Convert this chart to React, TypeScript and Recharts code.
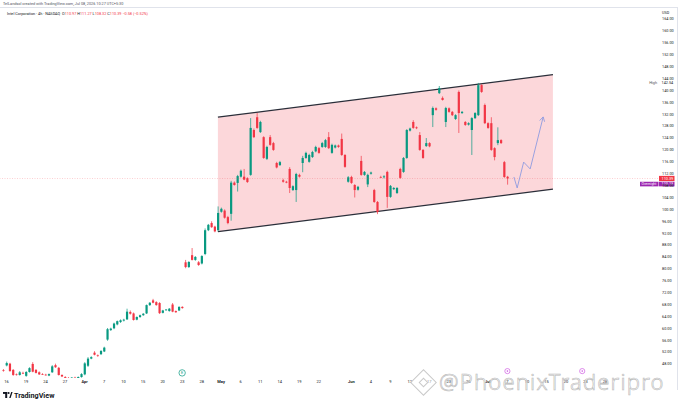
import React from 'react';
import {
  ComposedChart,
  Bar,
  Area,
  Line,
  XAxis,
  YAxis,
  ReferenceLine,
  ReferenceDot,
} from 'recharts';

const GREEN = '#089981';
const RED = '#f23645';
const PURPLE = '#9c27b0';
const FONT = 'Roboto, "Noto Sans", sans-serif';

// INTC 4h bars, one row per bar: [open, high, low, close]
const ohlc: [number, number, number, number][] = [
  [45.9, 46.3, 45.4, 45.7], [47.5, 48.8, 47.2, 48.3], [48.1, 48.4, 45.4, 45.6], [46.0, 46.3, 44.0, 44.3],
  [44.5, 44.8, 44.1, 44.3], [44.3, 45.6, 44.1, 45.2], [45.0, 45.4, 44.6, 44.8], [44.0, 45.6, 43.7, 45.3],
  [45.3, 46.9, 45.1, 46.6], [48.0, 48.6, 45.2, 45.4], [46.0, 46.3, 44.8, 45.0], [45.2, 45.5, 44.3, 44.5],
  [44.6, 44.9, 44.3, 44.5], [44.4, 44.7, 44.1, 44.3], [44.1, 44.8, 43.9, 44.6], [45.2, 47.6, 45.0, 47.2],
  [47.6, 48.1, 46.7, 46.9], [46.7, 47.0, 44.1, 44.3], [44.3, 44.5, 43.6, 43.8], [43.6, 43.9, 43.1, 43.3],
  [43.3, 43.6, 42.9, 43.1], [43.1, 43.6, 42.8, 43.4], [43.4, 43.7, 42.9, 43.1], [43.1, 43.8, 42.9, 43.6],
  [43.6, 44.9, 43.4, 44.6], [44.5, 48.6, 44.2, 48.2], [47.4, 50.3, 47.0, 49.8], [49.8, 50.6, 49.6, 50.3],
  [51.8, 52.3, 50.9, 51.1], [50.9, 51.2, 50.4, 50.7], [51.3, 52.6, 51.0, 52.4], [52.2, 53.8, 52.0, 53.5],
  [56.2, 60.1, 55.8, 59.7], [59.4, 60.2, 59.1, 59.9], [60.0, 61.9, 59.7, 61.6], [61.3, 62.6, 61.0, 62.4],
  [62.1, 63.0, 61.8, 62.7], [62.6, 63.2, 62.3, 62.9], [63.0, 66.6, 62.8, 65.6], [65.5, 66.0, 64.6, 64.9],
  [65.0, 65.3, 62.6, 62.8], [62.9, 64.0, 62.7, 63.8], [63.8, 64.6, 63.5, 64.4], [64.4, 65.1, 64.2, 64.9],
  [65.0, 68.0, 64.8, 67.8], [67.8, 68.8, 67.5, 68.6], [69.4, 69.9, 68.4, 68.6], [68.8, 69.1, 67.6, 67.8],
  [68.5, 68.8, 64.8, 65.1], [65.2, 66.2, 65.0, 66.0], [66.1, 66.5, 65.9, 66.3], [65.8, 66.8, 65.6, 66.6],
  [68.0, 68.5, 65.4, 65.6], [65.8, 66.0, 65.2, 65.4], [66.0, 67.4, 65.8, 67.2], [67.2, 67.4, 66.6, 66.8],
  [82.2, 83.0, 80.2, 80.6], [80.6, 82.6, 80.3, 82.3], [84.6, 87.0, 82.8, 83.0], [83.0, 84.3, 82.7, 84.0],
  [82.2, 82.6, 81.0, 81.3], [81.8, 84.6, 81.5, 84.3], [85.0, 93.6, 84.6, 93.0], [93.0, 95.1, 92.7, 94.8],
  [95.4, 96.0, 93.8, 94.0], [94.2, 94.5, 92.3, 92.6], [93.0, 101.0, 92.6, 98.8], [99.2, 100.6, 98.9, 100.2],
  [99.6, 100.0, 96.9, 97.2], [97.4, 97.8, 95.0, 95.4], [98.5, 109.6, 96.2, 109.0], [109.0, 109.4, 108.0, 108.2],
  [108.9, 111.6, 106.0, 111.2], [111.0, 113.4, 110.7, 113.0], [111.0, 113.6, 109.8, 110.0], [110.5, 110.8, 108.9, 109.2],
  [111.6, 130.7, 111.3, 127.4], [126.7, 127.2, 124.0, 124.3], [131.0, 132.4, 127.1, 127.4], [126.0, 129.8, 125.7, 129.4],
  [124.3, 124.6, 117.0, 117.3], [117.0, 121.4, 116.6, 121.0], [124.3, 125.0, 121.4, 121.7], [122.3, 122.7, 119.7, 120.0],
  [115.6, 116.0, 113.8, 114.1], [114.9, 116.3, 114.6, 115.9], [109.8, 110.3, 109.0, 109.3], [109.3, 109.6, 108.8, 109.0],
  [113.6, 114.2, 105.5, 107.2], [106.5, 108.1, 106.2, 107.8], [106.5, 112.3, 102.5, 111.9], [111.6, 112.0, 110.7, 111.0],
  [115.6, 118.0, 112.5, 117.3], [117.3, 119.4, 117.0, 119.0], [116.0, 118.7, 115.7, 118.3], [117.6, 119.7, 117.3, 119.3],
  [119.5, 121.4, 119.2, 121.0], [120.6, 121.0, 118.7, 119.0], [121.0, 122.7, 120.7, 122.3], [121.0, 123.7, 120.7, 123.3],
  [124.3, 126.0, 120.3, 120.6], [119.0, 122.1, 118.7, 121.7], [120.8, 121.8, 120.5, 121.5], [121.5, 121.8, 120.7, 121.0],
  [123.7, 125.5, 118.0, 118.3], [118.3, 118.6, 114.0, 114.3], [109.3, 111.2, 109.0, 110.8], [110.9, 111.3, 108.6, 108.9],
  [108.2, 108.5, 104.0, 106.5], [106.6, 107.9, 106.3, 107.6], [116.3, 118.0, 111.3, 111.6], [111.6, 112.9, 111.3, 112.6],
  [108.4, 112.0, 107.5, 111.6], [112.0, 112.7, 111.7, 112.4], [106.5, 106.9, 102.2, 102.5], [102.5, 102.8, 98.4, 99.1],
  [110.9, 111.3, 110.5, 110.8], [110.8, 111.5, 110.4, 111.1], [112.6, 113.0, 100.5, 104.2], [104.2, 108.2, 103.9, 107.9],
  [106.8, 107.5, 106.5, 107.2], [105.5, 107.5, 105.2, 107.2], [113.6, 114.0, 110.3, 110.6], [112.6, 117.6, 112.3, 117.3],
  [117.3, 127.0, 117.0, 126.7], [126.5, 127.5, 126.2, 127.2], [129.4, 130.0, 127.1, 127.4], [127.6, 127.9, 127.0, 127.3],
  [125.0, 126.0, 119.7, 120.0], [120.0, 120.3, 117.0, 117.3], [121.3, 124.0, 121.0, 122.3], [122.3, 122.6, 120.9, 121.2],
  [131.7, 134.6, 127.7, 134.1], [134.0, 134.3, 133.2, 133.5], [139.1, 141.5, 138.8, 140.8], [137.5, 138.0, 136.6, 136.8],
  [129.4, 134.5, 127.7, 134.1], [134.0, 134.3, 132.5, 132.8], [132.8, 133.1, 131.4, 131.7], [130.4, 132.0, 130.1, 131.7],
  [139.5, 140.0, 125.7, 132.4], [132.4, 133.1, 132.1, 132.8], [129.4, 129.7, 128.1, 128.4], [128.5, 129.3, 128.2, 129.0],
  [126.7, 131.0, 118.3, 130.7], [130.7, 132.7, 130.4, 132.4], [131.7, 142.54, 131.4, 141.8], [141.8, 142.1, 139.2, 139.5],
  [135.1, 135.6, 128.7, 129.0], [129.0, 129.3, 127.1, 127.4], [129.0, 131.0, 119.7, 120.0], [120.6, 120.9, 116.5, 117.6],
  [122.3, 127.6, 121.6, 123.3], [123.3, 123.6, 122.0, 122.3], [115.9, 116.3, 110.6, 110.9], [110.97, 111.27, 108.32, 110.39],
];

// time scale: bar index of each label
const timeTicks = [2, 8, 14, 20, 26, 32, 38, 44, 50, 56, 62, 68, 74, 80, 86, 92, 98, 108, 114, 120, 126, 132, 138, 144, 150, 156, 162, 168, 174, 180, 186];
const timeLabels = ['16', '19', '24', '27', 'Apr', '7', '10', '15', '20', '23', '28', 'May', '6', '11', '14', '19', '22', 'Jun', '4', '9', '12', '17', '23', '26', 'Jul', '7', '10', '15', '20', '23', '28'];

const priceTicks = [48, 52, 56, 60, 64, 68, 72, 76, 80, 84, 88, 92, 96, 100, 104, 108, 112, 116, 120, 124, 128, 132, 136, 140, 144, 148, 152, 156, 160, 164];

// parallel channel (bar index, lower, upper)
const channelX = [67, 170];
const channelLow = [92.5, 106.8];
const channelHigh = [131.0, 145.3];

// projected path drawn after the last bar
const pathX = [158, 159, 161, 163, 167];
const pathY = [110.9, 107.2, 115.9, 113.6, 131.1];

const lastPrice = 110.39;
const overnightPrice = 110.13;
const highPrice = 142.54;

const earningsBar = 56;
const eventBars = [156, 179];

const rows: any[] = [];
const lastIndex = Math.max(ohlc.length, ...channelX, ...pathX);
for (let x = 1; x <= lastIndex; x++) rows.push({ x });
ohlc.forEach(([o, h, l, c], i) => Object.assign(rows[i], { o, h, l, c }));
channelX.forEach((x, i) => {
  rows[x - 1].chan = [channelLow[i], channelHigh[i]];
});
pathX.forEach((x, i) => {
  rows[x - 1].path = pathY[i];
});

const Candle = (props: any) => {
  const { x, y, width, height, payload } = props;
  if (payload == null || payload.o == null) return null;
  const { o, h, l, c } = payload;
  const color = c >= o ? GREEN : RED;
  const top = Math.min(y, y + height);
  const span = Math.abs(height);
  const k = h > l ? span / (h - l) : 0;
  const bodyTop = top + (h - Math.max(o, c)) * k;
  const bodyH = Math.max(Math.abs(o - c) * k, 0.7);
  const cx = x + width / 2;
  const bw = 2.2;
  return (
    <g>
      <line x1={cx} x2={cx} y1={top} y2={top + span} stroke={color} strokeWidth={0.7} />
      <rect x={cx - bw / 2} y={bodyTop} width={bw} height={bodyH} fill={color} />
    </g>
  );
};

const TimeTick = ({ x, y, payload }: any) => {
  const label = timeLabels[timeTicks.indexOf(payload.value)];
  const month = /^[A-Z]/.test(label || '');
  return (
    <text x={x} y={y} dy={3.2} textAnchor="middle" fontSize={4} fontWeight={month ? 700 : 400} fill="#131722" fontFamily={FONT}>
      {label}
    </text>
  );
};

const PathTip = (props: any) => {
  const { cx, cy, payload } = props;
  if (payload == null || payload.x !== pathX[pathX.length - 1]) return <g />;
  return (
    <path
      d={`M${cx - 3.5},${cy + 3.6} L${cx},${cy} L${cx + 1.4},${cy + 4.8}`}
      fill="none"
      stroke="#8f9be0"
      strokeWidth={0.9}
    />
  );
};

const LastTag = (props: any) => {
  const { viewBox } = props;
  if (!viewBox) return null;
  const x0 = viewBox.x + viewBox.width + 1;
  const cy = viewBox.y;
  return (
    <g fontFamily={FONT}>
      <rect x={x0} y={cy - 2.6} width={15.5} height={5.2} fill={RED} />
      <text x={x0 + 2.5} y={cy + 1.4} fontSize={3.8} fill="#fff">{lastPrice.toFixed(2)}</text>
    </g>
  );
};

const OvernightTag = (props: any) => {
  const { viewBox } = props;
  if (!viewBox) return null;
  const x0 = viewBox.x + viewBox.width + 1;
  const cy = viewBox.y + 4.8;
  return (
    <g fontFamily={FONT}>
      <rect x={x0 - 19} y={cy - 2.3} width={18.5} height={4.6} fill={PURPLE} />
      <text x={x0 - 17.5} y={cy + 1.3} fontSize={3.5} fill="#fff">Overnight</text>
      <rect x={x0} y={cy - 2.3} width={15.5} height={4.6} fill={PURPLE} />
      <text x={x0 + 2.5} y={cy + 1.3} fontSize={3.8} fill="#fff">{overnightPrice.toFixed(2)}</text>
    </g>
  );
};

const HighTag = (props: any) => {
  const { viewBox } = props;
  if (!viewBox) return null;
  const x0 = viewBox.x + viewBox.width;
  const cy = viewBox.y;
  return (
    <g fontFamily={FONT} fontSize={3.8}>
      <text x={x0 - 1} y={cy + 1.3} textAnchor="end" fill="#555">High</text>
      <text x={x0 + 3.5} y={cy + 1.3} fill="#131722">{highPrice.toFixed(2)}</text>
    </g>
  );
};

const EarningsMark = ({ cx, cy }: any) => (
  <g>
    <circle cx={cx} cy={cy} r={3.2} fill="#fff" stroke={GREEN} strokeWidth={0.7} />
    <text x={cx} y={cy + 1.4} textAnchor="middle" fontSize={3.8} fill={GREEN} fontFamily={FONT}>E</text>
  </g>
);

const EventMark = ({ cx, cy }: any) => (
  <g>
    <circle cx={cx} cy={cy} r={2.6} fill="#fff" stroke="#d05ce3" strokeWidth={0.7} />
    <circle cx={cx} cy={cy} r={0.8} fill="#d05ce3" />
  </g>
);

const small: React.CSSProperties = {
  position: 'absolute',
  fontFamily: FONT,
  fontSize: 3.8,
  lineHeight: '5px',
  whiteSpace: 'nowrap',
  color: '#131722',
};

export default function App() {
  return (
    <div style={{ position: 'absolute', left: 0, top: 0, width: 680, height: 406, background: '#fff', overflow: 'hidden' }}>
      <ComposedChart width={680} height={406} data={rows} margin={{ top: 8, right: 0, bottom: 0, left: 0 }}>
        <XAxis
          dataKey="x"
          type="number"
          domain={[0, 202.3]}
          allowDataOverflow
          ticks={timeTicks}
          interval={0}
          height={28}
          axisLine={false}
          tickLine={false}
          tickSize={0}
          tickMargin={2}
          tick={<TimeTick />}
        />
        <YAxis
          orientation="right"
          width={22}
          domain={[43.28, 167.74]}
          allowDataOverflow
          ticks={priceTicks}
          interval={0}
          axisLine={false}
          tickLine={false}
          tickSize={0}
          tickMargin={4}
          tick={{ fontSize: 3.8, fill: '#131722', fontFamily: FONT }}
          tickFormatter={(v: number) => v.toFixed(2)}
        />
        <Area
          dataKey={(d: any) => d.chan ?? null}
          type="linear"
          connectNulls
          stroke="#2a2e39"
          strokeWidth={1.3}
          fill={RED}
          fillOpacity={0.2}
          dot={false}
          activeDot={false}
          isAnimationActive={false}
        />
        <ReferenceLine y={lastPrice} stroke={RED} strokeOpacity={0.4} strokeWidth={0.6} strokeDasharray="1 1.5" label={<LastTag />} />
        <ReferenceLine y={overnightPrice} stroke="none" label={<OvernightTag />} />
        <ReferenceLine y={highPrice} stroke="none" label={<HighTag />} />
        <Bar dataKey={(d: any) => (d.o == null ? null : [d.l, d.h])} shape={<Candle />} isAnimationActive={false} />
        <Line
          dataKey="path"
          type="linear"
          connectNulls
          stroke="#8f9be0"
          strokeWidth={0.9}
          dot={<PathTip />}
          activeDot={false}
          isAnimationActive={false}
        />
        <ReferenceDot x={earningsBar} y={45.0} r={3} shape={<EarningsMark />} />
        {eventBars.map((b) => (
          <ReferenceDot key={b} x={b} y={45.6} r={2.6} shape={<EventMark />} />
        ))}
      </ComposedChart>

      <div style={{ position: 'absolute', left: 0, top: 7, width: 677, height: 382, borderTop: '1px solid #e0e3eb', borderRight: '1px solid #e0e3eb', pointerEvents: 'none' }} />
      <div style={{ ...small, left: 3, top: 0.8, color: '#50535e' }}>
        TelLandsol created with TradingView.com, Jul 08, 2026 10:27 UTC+5:30
      </div>
      <div style={{ ...small, left: 7, top: 10.8 }}>
        Intel Corporation · 4h · NASDAQ&nbsp;&nbsp;O<span style={{ color: RED }}>110.97</span> H<span style={{ color: RED }}>111.27</span> L
        <span style={{ color: RED }}>108.32</span> C<span style={{ color: RED }}>110.39</span> <span style={{ color: RED }}>−0.58 (−0.52%)</span>
      </div>
      <div style={{ ...small, left: 662, top: 10, color: '#131722' }}>USD</div>

      <div style={{ position: 'absolute', left: 413.5, top: 372.5, width: 19, height: 19, boxSizing: 'border-box', border: '1.3px solid #c9c9c9', transform: 'rotate(45deg)', background: 'rgba(255,255,255,0.5)' }} />
      <div style={{ position: 'absolute', left: 419.5, top: 378.5, width: 7, height: 7, boxSizing: 'border-box', border: '1.2px solid #c9c9c9', transform: 'rotate(45deg)' }} />
      <div
        style={{
          position: 'absolute',
          left: 439,
          top: 368,
          fontFamily: '"Noto Sans", sans-serif',
          fontWeight: 300,
          fontSize: 22,
          lineHeight: '26px',
          letterSpacing: 1.2,
          whiteSpace: 'nowrap',
          color: 'rgba(255,255,255,0.55)',
          WebkitTextStroke: '0.6px #b8b8b8',
        }}
      >
        @PhoenixTraderipro
      </div>

      <svg style={{ position: 'absolute', left: 0, top: 388 }} width={70} height={14}>
        <rect x={3} y={4} width={4.2} height={1.9} fill="#131722" />
        <rect x={5.2} y={4} width={2} height={6} fill="#131722" />
        <circle cx={8.6} cy={5} r={1} fill="#131722" />
        <path d="M9.2,10 L11.2,4 L12.6,4 L10.6,10 Z" fill="#131722" />
        <text x={14} y={9.8} fontSize={7.2} fontWeight={700} fill="#131722" fontFamily={FONT}>TradingView</text>
      </svg>
    </div>
  );
}
